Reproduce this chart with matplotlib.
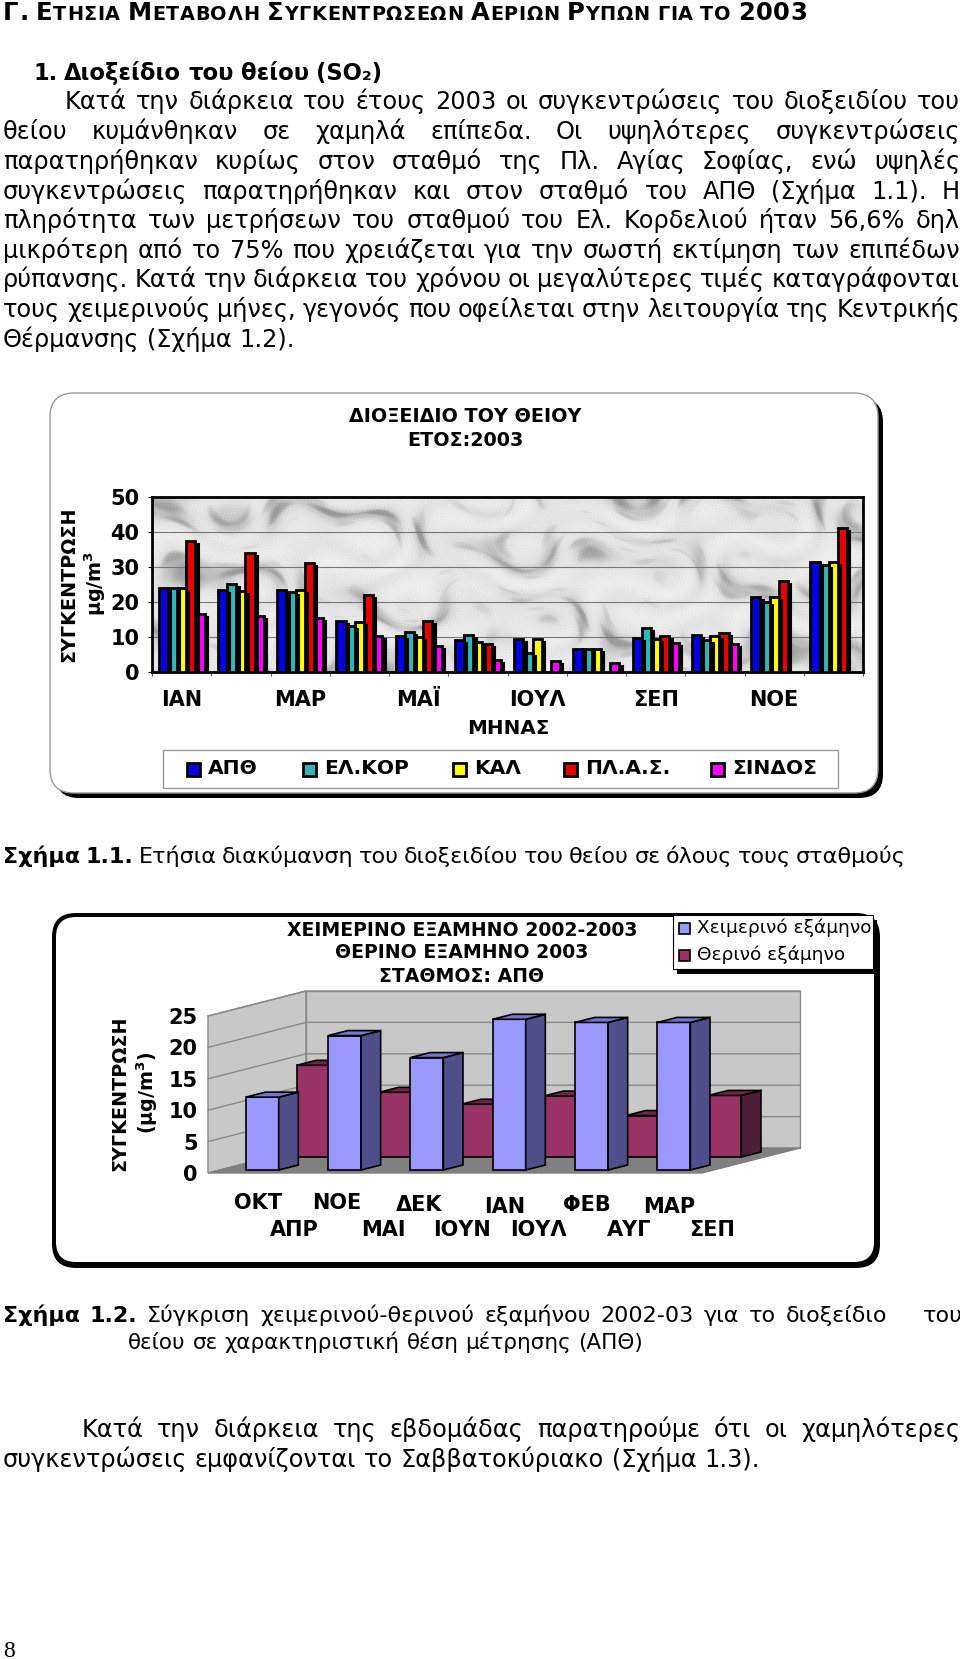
import matplotlib
matplotlib.use("Agg")
import matplotlib.pyplot as plt
import numpy as np
from matplotlib.patches import FancyBboxPatch, Polygon, Rectangle

W, H = 960, 1659
BODY = 17.3
BOLD = 13.8
TICK = 15
RIGHT = 960

# figure 1.1 data
month_labels = ["ΙΑΝ", "ΜΑΡ", "ΜΑΪ", "ΙΟΥΛ", "ΣΕΠ", "ΝΟΕ"]
stations = ["ΑΠΘ", "ΕΛ.ΚΟΡ", "ΚΑΛ", "ΠΛ.Α.Σ.", "ΣΙΝΔΟΣ"]
station_colors = ["#0000E0", "#33B5B5", "#FFFF00", "#E60000", "#FF00FF"]
apth = [24, 23.5, 23.5, 14.5, 10.3, 9, 9.5, 6.5, 9.7, 10.5, 21.5, 31.5]
elkor = [24, 25, 22.8, 13, 11.5, 10.5, 5.5, 6.5, 12.5, 9, 20, 30.5]
kal = [24, 23.2, 23.5, 14.3, 10, 8.5, 9.5, 6.5, 9.3, 10.3, 21.5, 31.5]
plas = [37.5, 34, 31, 22, 14.5, 8, 0, 0, 10.3, 11, 26, 41]
sindos = [16.5, 16, 15.5, 10.3, 7.5, 3.5, 3, 2.5, 8.3, 8, 0, 0]

# figure 1.2 data
winter_labels = ["ΟΚΤ", "ΝΟΕ", "ΔΕΚ", "ΙΑΝ", "ΦΕΒ", "ΜΑΡ"]
summer_labels = ["ΑΠΡ", "ΜΑΙ", "ΙΟΥΝ", "ΙΟΥΛ", "ΑΥΓ", "ΣΕΠ"]
winter = [11.6, 21.4, 17.9, 24, 23.5, 23.5]
summer = [14.6, 10.3, 8.4, 9.7, 6.6, 9.8]

plt.rcParams["font.family"] = ["DejaVu Sans"]
fig = plt.figure(figsize=(W / 100, H / 100), dpi=100, facecolor="white")
page = fig.add_axes([0, 0, 1, 1], zorder=0)
page.set_xlim(0, W)
page.set_ylim(H, 0)
page.axis("off")
renderer = fig.canvas.get_renderer()


def px_axes(l, t, r, b, z):
    return fig.add_axes([l / W, 1 - b / H, (r - l) / W, (b - t) / H], zorder=z)


def word_width(word, size, weight):
    t = page.text(0, 0, word, fontsize=size, fontweight=weight)
    w = t.get_window_extent(renderer).width
    t.remove()
    return w


def put_line(words, x0, x1, y, size=BODY):
    # words are (text, weight); x1=None keeps natural spacing
    widths = [word_width(w, size, b) for w, b in words]
    gap = word_width("a a", size, "normal") - word_width("aa", size, "normal")
    if x1 is not None and len(words) > 1:
        gap = (x1 - x0 - sum(widths)) / (len(words) - 1)
    x = x0
    for (w, b), ww in zip(words, widths):
        page.text(x, y, w, fontsize=size, fontweight=b, va="baseline", ha="left")
        x += ww + gap


def plain(s):
    return [(w, "normal") for w in s.split()]


def bold(s):
    return [(w, "bold") for w in s.split()]


def small_caps(s, x, y, big, small):
    for word in s.split():
        for i, ch in enumerate(word):
            sz = big if (i == 0 and word not in ("ΓΙΑ", "ΤΟ")) or ch in "2003." else small
            t = page.text(x, y, ch, fontsize=sz, fontweight="bold", va="baseline")
            x += t.get_window_extent(renderer).width + 0.6
        x += 7


def rounded(x0, y0, x1, y1, r, fc, ec="none", lw=0, z=1):
    page.add_patch(FancyBboxPatch((x0, y0), x1 - x0, y1 - y0,
                                  boxstyle="round,pad=0,rounding_size=%d" % r,
                                  fc=fc, ec=ec, lw=lw, zorder=z))


# page text
small_caps("Γ. ΕΤΗΣΙΑ ΜΕΤΑΒΟΛΗ ΣΥΓΚΕΝΤΡΩΣΕΩΝ ΑΕΡΙΩΝ ΡΥΠΩΝ ΓΙΑ ΤΟ 2003", 3, 20, 17.5, 13.85)
put_line(bold("1. Διοξείδιο του θείου (SO₂)"), 33, None, 80, 16.3)
put_line(plain("Κατά την διάρκεια του έτους 2003 οι συγκεντρώσεις του διοξειδίου του"), 65, RIGHT, 109)
put_line(plain("θείου κυμάνθηκαν σε χαμηλά επίπεδα. Οι υψηλότερες συγκεντρώσεις"), 3, RIGHT, 139)
put_line(plain("παρατηρήθηκαν κυρίως στον σταθμό της Πλ. Αγίας Σοφίας, ενώ υψηλές"), 3, RIGHT, 169)
put_line(plain("συγκεντρώσεις παρατηρήθηκαν και στον σταθμό του ΑΠΘ (Σχήμα 1.1). Η"), 3, RIGHT, 199)
put_line(plain("πληρότητα των μετρήσεων του σταθμού του Ελ. Κορδελιού ήταν 56,6% δηλ"), 3, RIGHT, 228)
put_line(plain("μικρότερη από το 75% που χρειάζεται για την σωστή εκτίμηση των επιπέδων"), 3, RIGHT, 258)
put_line(plain("ρύπανσης. Κατά την διάρκεια του χρόνου οι μεγαλύτερες τιμές καταγράφονται"), 3, RIGHT, 287)
put_line(plain("τους χειμερινούς μήνες, γεγονός που οφείλεται στην λειτουργία της Κεντρικής"), 3, RIGHT, 317)
put_line(plain("Θέρμανσης (Σχήμα 1.2)."), 3, None, 347)
put_line(bold("Σχήμα 1.1.") + plain("Ετήσια διακύμανση του διοξειδίου του θείου σε όλους τους σταθμούς"), 3, 906, 863, 16)
put_line(bold("Σχήμα 1.2.") + plain("Σύγκριση χειμερινού-θερινού εξαμήνου 2002-03 για το διοξείδιο"), 3, 887, 1322, 16)
put_line(plain("του"), 923, None, 1322, 16)
put_line(plain("θείου σε χαρακτηριστική θέση μέτρησης (ΑΠΘ)"), 128, None, 1349, 15.5)
put_line(plain("Κατά την διάρκεια της εβδομάδας παρατηρούμε ότι οι χαμηλότερες"), 82, RIGHT, 1437)
put_line(plain("συγκεντρώσεις εμφανίζονται το Σαββατοκύριακο (Σχήμα 1.3)."), 3, None, 1467)
page.text(3, 1657, "8", fontsize=17, family="Liberation Serif", va="baseline")

# figure 1.1 frame, title, legend
rounded(55, 398, 883, 798, 24, "black", z=1)
rounded(50, 393, 878, 793, 24, "white", ec="#999999", lw=1, z=2)
page.text(465, 417, "ΔΙΟΞΕΙΔΙΟ ΤΟΥ ΘΕΙΟΥ", fontsize=BOLD, fontweight="bold", ha="center", va="center", zorder=5)
page.text(465, 440, "ΕΤΟΣ:2003", fontsize=BOLD, fontweight="bold", ha="center", va="center", zorder=5)
page.text(69, 584, "ΣΥΓΚΕΝΤΡΩΣΗ", fontsize=BOLD, fontweight="bold", rotation=90, ha="center", va="center", zorder=5)
page.text(95, 583, r"μg/m$^{\mathbf{3}}$", fontsize=BOLD, fontweight="bold", rotation=90, ha="center", va="center", zorder=5)
page.text(508, 728, "ΜΗΝΑΣ", fontsize=14.3, fontweight="bold", ha="center", va="center", zorder=5)
page.add_patch(Rectangle((163, 750), 675, 38, fc="white", ec="#999999", lw=1, zorder=3))
for name, col, kx in zip(stations, station_colors, [187, 303, 453, 564, 711]):
    page.add_patch(Rectangle((kx, 763), 13, 13, fc=col, ec="black", lw=2, zorder=4))
    page.text(kx + 21, 769, name, fontsize=14.6, fontweight="bold", va="center", zorder=5)

# figure 1.1 bars, background is only a grey marble look
ax1 = px_axes(152, 497, 863, 672, 3)
yy, xx = np.mgrid[0:175, 0:711]
warp = (2.3 * np.sin(xx * 0.0173 + yy * 0.037) + 1.7 * np.sin(xx * 0.0291 - yy * 0.061 + 1.0)
        + 1.2 * np.sin(xx * 0.0617 + yy * 0.019 + 2.3))
band = np.sin(xx * 0.023 - yy * 0.052 + warp) * np.sin(xx * 0.0117 + yy * 0.033 + 0.6 * warp)
fine = np.sin(xx * 0.097 - yy * 0.173 + 2.1 * warp) * np.sin(xx * 0.041 + yy * 0.089 - 1.3 * warp)
grain = np.sin(xx * 0.71 + yy * 1.37) * np.sin(xx * 1.13 - yy * 0.83)
marble = (0.89 - 0.16 * np.clip(band, 0, 1) ** 1.5 - 0.13 * np.clip(band + fine - 0.6, 0, 1)
          + 0.04 * np.clip(-band, 0, 1) + 0.02 * grain)
ax1.imshow(marble, cmap="gray", vmin=0, vmax=1, aspect="auto", extent=[0, 12, 0, 50], zorder=0)
ax1.set_yticks([0, 10, 20, 30, 40, 50])
ax1.grid(axis="y", color="#777777", lw=0.8, zorder=1)
ax1.set_axisbelow(True)
series = [apth, elkor, kal, plas, sindos]
pitch = 0.155
start = 0.19
months = np.arange(12)
for k in range(4, -1, -1):
    vals = np.array(series[k], dtype=float)
    x = months + start + k * pitch
    shown = vals > 0
    z = 10 + (4 - k) * 2
    ax1.bar(x[shown] + 0.055, np.maximum(vals[shown] - 0.85, 0), pitch, color="black", ec="black", lw=1.5, zorder=z)
    ax1.bar(x[shown], vals[shown], pitch, color=station_colors[k], ec="black", lw=2, zorder=z + 1)
ax1.set_xlim(0, 12)
ax1.set_ylim(0, 50)
ax1.set_xticks(np.arange(13))
ax1.set_xticks(np.arange(6) * 2 + 0.5, minor=True)
ax1.set_xticklabels([])
ax1.set_xticklabels(month_labels, minor=True, fontsize=TICK, fontweight="bold")
ax1.tick_params(axis="x", which="minor", length=0, pad=13)
ax1.tick_params(axis="x", which="major", length=3, width=0.8, color="#555555")
ax1.tick_params(axis="y", length=3, width=0.8, labelsize=TICK, pad=6)
for lab in ax1.get_yticklabels():
    lab.set_fontweight("bold")
for s in ax1.spines.values():
    s.set_linewidth(2)

# figure 1.2 frame, title, legend
rounded(52, 913, 880, 1268, 24, "black", z=1)
rounded(56, 917, 874, 1262, 20, "white", z=2)
for y, line in zip([930, 953, 977], ["ΧΕΙΜΕΡΙΝΟ ΕΞΑΜΗΝΟ 2002-2003", "ΘΕΡΙΝΟ ΕΞΑΜΗΝΟ 2003", "ΣΤΑΘΜΟΣ: ΑΠΘ"]):
    page.text(462, y, line, fontsize=13.6, fontweight="bold", ha="center", va="center", zorder=5)
page.text(120, 1093, "ΣΥΓΚΕΝΤΡΩΣΗ", fontsize=BOLD, fontweight="bold", rotation=90, ha="center", va="center", zorder=5)
page.text(147, 1093, r"(μg/m$^{\mathbf{3}}$)", fontsize=BOLD, fontweight="bold", rotation=90, ha="center", va="center", zorder=5)
page.add_patch(Rectangle((677, 920), 200, 54, fc="black", zorder=4))
page.add_patch(Rectangle((673, 915), 200, 54, fc="white", ec="black", lw=0.8, zorder=5))
for y, name, col in zip([928, 955], ["Χειμερινό εξάμηνο", "Θερινό εξάμηνο"], ["#9999FF", "#993366"]):
    page.add_patch(Rectangle((679, y - 5), 11, 11, fc=col, ec="black", lw=1.2, zorder=6))
    page.text(697, y, name, fontsize=13.3, va="center", zorder=6)

# figure 1.2 pseudo 3d bars, depth goes from 0 (front) to 1 (back wall)
ax2 = px_axes(208, 1016, 702, 1173, 3)
ax2.patch.set_visible(False)
ax2.set_xlim(0, 6)
ax2.set_ylim(0, 25)
DEPTH_X = 98 / 82.33
DEPTH_Y = 25 / 6.28


def pt(x, y, d):
    return (x + d * DEPTH_X, y + d * DEPTH_Y)


def poly(points, fc, ec="black", lw=1.2, z=2):
    ax2.add_patch(Polygon([pt(*p) for p in points], closed=True, fc=fc, ec=ec, lw=lw, zorder=z, clip_on=False))


poly([(0, 0, 0), (0, 0, 1), (0, 25, 1), (0, 25, 0)], "#C8C8C8", "#8A8A8A", 1, 1)
poly([(0, 0, 1), (6, 0, 1), (6, 25, 1), (0, 25, 1)], "#C8C8C8", "#8A8A8A", 1, 1)
poly([(0, 0, 0), (6, 0, 0), (6, 0, 1), (0, 0, 1)], "#808080", "#808080", 1, 1)
for v in range(5, 30, 5):
    ax2.plot(*zip(pt(0, v, 0), pt(0, v, 1), pt(6, v, 1)), color="#8A8A8A", lw=1, zorder=1, clip_on=False)


def bar3d(i, v, d0, d1, front, side, top, z):
    x0 = i + 0.316
    x1 = x0 + 0.4
    poly([(x0, 0, d0), (x1, 0, d0), (x1, v, d0), (x0, v, d0)], front, z=z)
    poly([(x1, 0, d0), (x1, 0, d1), (x1, v, d1), (x1, v, d0)], side, z=z)
    poly([(x0, v, d0), (x1, v, d0), (x1, v, d1), (x0, v, d1)], top, z=z)


for i, v in enumerate(summer):
    bar3d(i, v, 0.64, 0.84, "#993366", "#4F1F3A", "#6E2548", 3)
for i, v in enumerate(winter):
    bar3d(i, v, 0.12, 0.32, "#9999FF", "#4F4F8C", "#7676C8", 4)

ax2.set_yticks([0, 5, 10, 15, 20, 25])
ax2.set_xticks([])
ax2.tick_params(axis="y", length=0, labelsize=TICK, pad=7.5)
for lab in ax2.get_yticklabels():
    lab.set_fontweight("bold")
for s in ax2.spines.values():
    s.set_visible(False)

for name, x, y in zip(winter_labels, [258, 337, 419, 505, 587, 669], [1203, 1203, 1205, 1207, 1205, 1207]):
    page.text(x, y, name, fontsize=TICK, fontweight="bold", ha="center", va="center", zorder=5)
for name, x in zip(summer_labels, [294, 383, 462, 538, 629, 712]):
    page.text(x, 1230, name, fontsize=TICK, fontweight="bold", ha="center", va="center", zorder=5)

fig.savefig("out.png", dpi=100)
